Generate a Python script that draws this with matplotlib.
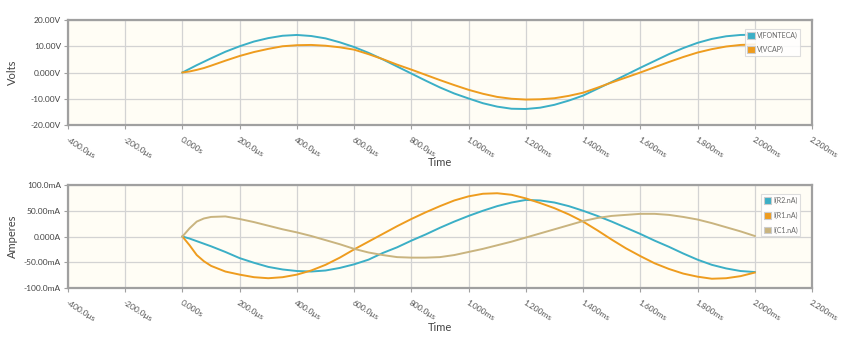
import matplotlib
matplotlib.use("Agg")
import matplotlib.pyplot as plt
from matplotlib.patches import Patch

plt.rcParams['font.family'] = ['Lato', 'DejaVu Sans']

# time axis in microseconds (finer at the start, then 50 us steps)
time_us = [0, 25, 50, 75] + list(range(100, 2001, 50))

v_fonteca = [0.0, 1.4, 2.8, 4.1, 5.4, 7.9, 10.0, 11.8, 13.1, 14.0, 14.3, 13.9, 13.0, 11.5,
             9.7, 7.5, 5.0, 2.3, -0.4, -3.1, -5.7, -8.0, -9.9, -11.7, -13.0, -13.8,
             -13.9, -13.4, -12.3, -10.7, -8.8, -6.2, -3.6, -0.9, 1.8, 4.4, 7.0, 9.3,
             11.3, 12.8, 13.8, 14.3, 14.4]
v_vcap = [0.0, 0.4, 1.0, 1.7, 2.6, 4.5, 6.3, 7.8, 9.0, 10.0, 10.4, 10.5, 10.2, 9.6,
          8.7, 7.0, 5.1, 3.0, 1.1, -0.9, -2.9, -4.8, -6.6, -8.1, -9.3, -10.0,
          -10.3, -10.2, -9.8, -8.9, -7.7, -5.8, -3.8, -1.9, 0.0, 2.0, 4.0, 5.9,
          7.6, 8.9, 9.9, 10.5, 10.7]

i_r2 = [0, -4, -9, -14, -19, -30, -42, -51, -59, -64, -67, -68, -66, -61,
        -54, -45, -32, -21, -8, 4, 17, 29, 40, 50, 59, 66,
        71, 70, 66, 59, 50, 40, 29, 17, 5, -8, -20, -33,
        -45, -55, -62, -67, -69]
i_r1 = [0, -17, -36, -48, -57, -68, -74, -79, -81, -79, -74, -66, -55, -41,
        -25, -10, 5, 20, 34, 47, 59, 70, 78, 83, 84, 81,
        74, 65, 55, 43, 29, 12, -6, -23, -38, -52, -63, -72,
        -78, -82, -81, -77, -70]
i_c1 = [0, 16, 29, 35, 38, 39, 34, 28, 21, 14, 8, 1, -7, -15,
        -24, -31, -36, -40, -41, -41, -40, -36, -30, -24, -17, -10,
        -2, 6, 14, 22, 30, 36, 40, 42, 44, 44, 42, 38,
        33, 26, 18, 10, 1]

x_ticks = [-400, -200, 0, 200, 400, 600, 800, 1000, 1200, 1400, 1600, 1800, 2000, 2200]
x_labels = ["-400.0\u03bcs", "-200.0\u03bcs", "0.000s", "200.0\u03bcs", "400.0\u03bcs",
            "600.0\u03bcs", "800.0\u03bcs", "1.000ms", "1.200ms", "1.400ms",
            "1.600ms", "1.800ms", "2.000ms", "2.200ms"]
v_ticks = [20, 10, 0, -10, -20]
v_labels = ["20.00V", "10.00V", "0.000V", "-10.00V", "-20.00V"]
i_ticks = [100, 50, 0, -50, -100]
i_labels = ["100.0mA", "50.00mA", "0.000A", "-50.00mA", "-100.0mA"]

C_BLUE = "#3BAFC6"
C_ORANGE = "#EE9C1E"
C_TAN = "#C9B47F"
BG = "#FFFDF5"
TXT = "#555555"

fig = plt.figure(figsize=(8.56, 3.46), dpi=100)
ax1 = fig.add_axes([0.0794, 0.6387, 0.8692, 0.3035])
ax2 = fig.add_axes([0.0794, 0.1676, 0.8692, 0.2977])


def style(ax, yticks, ylabels, ylim, ylabel, xlab_y):
    ax.set_facecolor(BG)
    ax.set_xlim(-400, 2200)
    ax.set_ylim(*ylim)
    ax.set_xticks(x_ticks)
    ax.set_xticklabels(x_labels, rotation=-32, ha='left', va='top',
                       rotation_mode='anchor', fontsize=6, color=TXT)
    ax.set_yticks(yticks)
    ax.set_yticklabels(ylabels, fontsize=6, color="#444444")
    ax.grid(True, color="#D3D3D3", lw=0.9)
    ax.set_axisbelow(True)
    for s in ax.spines.values():
        s.set_color("#A0A0A0")
        s.set_linewidth(1.6)
    ax.tick_params(axis='both', length=3, width=0.8, color="#A0A0A0", pad=2)
    ax.tick_params(axis='x', pad=5)
    ax.set_xlabel("Time", fontsize=8, color="#444444", va='center')
    ax.xaxis.set_label_coords(0.5, xlab_y)
    ax.set_ylabel(ylabel, fontsize=8, color="#444444", va='center')
    ax.yaxis.set_label_coords(-0.074, 0.5)


style(ax1, v_ticks, v_labels, (-20, 20), "Volts", -0.36)
style(ax2, i_ticks, i_labels, (-100, 100), "Amperes", -0.385)

ax1.plot(time_us, v_fonteca, color=C_BLUE, lw=1.4)
ax1.plot(time_us, v_vcap, color=C_ORANGE, lw=1.4)

ax2.plot(time_us, i_r2, color=C_BLUE, lw=1.4)
ax2.plot(time_us, i_r1, color=C_ORANGE, lw=1.4)
ax2.plot(time_us, i_c1, color=C_TAN, lw=1.4)


def legend(ax, names, colors, anchor, spacing):
    handles = [Patch(facecolor=c, edgecolor="#CCCCCC", lw=0.8) for c in colors]
    lg = ax.legend(handles, names, loc='upper right', bbox_to_anchor=anchor,
                   fontsize=5, frameon=True, fancybox=False, framealpha=0.85,
                   edgecolor="#D8D8D8", handlelength=1.1, handleheight=1.1,
                   handletextpad=0.3, borderpad=0.35, labelspacing=spacing,
                   borderaxespad=0)
    for t in lg.get_texts():
        t.set_color("#666666")
    lg.get_frame().set_linewidth(0.8)


legend(ax1, ["V(FONTECA)", "V(VCAP)"], [C_BLUE, C_ORANGE], (0.9845, 0.91), 1.0)
legend(ax2, ["I(R2.nA)", "I(R1.nA)", "I(C1.nA)"], [C_BLUE, C_ORANGE, C_TAN], (0.9845, 0.91), 1.1)

fig.savefig("out.png", dpi=100)
